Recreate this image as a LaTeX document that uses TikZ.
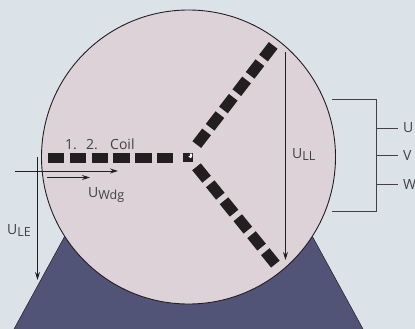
\documentclass[tikz,border=0pt]{standalone}
\usepackage{fontspec}
\setmainfont{Open Sans}
\usetikzlibrary{arrows.meta}
\definecolor{bgblue}{HTML}{DBE3E9}
\definecolor{rotorpink}{HTML}{DDD2D7}
\definecolor{footblue}{HTML}{515377}
\definecolor{inkblack}{HTML}{231F20}
\newcommand{\volt}[1]{\fontsize{14}{14}\selectfont U\fontsize{12.5}{14}\selectfont\raisebox{-2pt}{#1}}

\begin{document}
\begin{tikzpicture}[x=1pt, y=-1pt, every node/.style={font=\fontsize{14}{14}\selectfont, text=inkblack!85!white, inner sep=0pt},
coil/.style={line width=10pt, inkblack, dash pattern=on 16.4pt off 5.4pt},
slantcoil/.style={line width=11pt, inkblack, dash pattern=on 16pt off 5.85pt},
meter/.style={-{Stealth[length=8pt, width=5pt]}, line width=0.9pt, inkblack},
lead/.style={line width=1pt, inkblack!85!white}]
% Background and housing
\useasboundingbox (0,0) rectangle (415,329);
\fill[bgblue] (0,0) rectangle (415,329);
\draw[fill=footblue, draw=inkblack, line width=0.5pt] (14,329) -- (90,190) -- (287,190) -- (363,329);
\draw[fill=rotorpink, draw=inkblack, line width=0.9pt] (188.5,157) circle (147);

% Define coil ends
\path (48,157.7) coordinate (leftA)
(174.5,157.7) coordinate (leftB)
(196.8,144.6) coordinate (upA)
(273.2,45.4) coordinate (upB)
(196.5,166.8) coordinate (downA)
(275.7,264.5) coordinate (downB);

\draw[coil] (leftA) -- (leftB);
\draw[slantcoil] (upA) -- (upB);
\draw[slantcoil] (downA) -- (downB);

% Star point
\node[fill=inkblack, minimum size=9.5pt] (star) at (188,157.7) {};
\fill[white] (star.north east) ++(-3.2,0.8) -- ++(2.4,0) -- ++(0,3) -- ++(-1.4,1.6) -- ++(-2.4,-1.6) -- ++(1.6,-0.6) -- cycle;

% Labels
\path
(65,149) node[anchor=base west] (one) {1.}
(86,149) node[anchor=base west] (two) {2.}
(110,149) node[anchor=base west] (coilname) {Coil}
(88,197) node[anchor=base west] (uwdg) {\volt{Wdg}}
(292,158) node[anchor=base west] (ull) {\volt{LL}}
(7,234) node[anchor=base west] (ule) {\volt{LE}}
(403,128) node[anchor=west] (termU) {U}
(403,155.5) node[anchor=west] (termV) {V}
(403,184.5) node[anchor=west] (termW) {W}
;

% Voltage arrows
\path (15,171) coordinate (lineL) (118,171) coordinate (lineR)
(47,177.5) coordinate (wdgL) (90,177.5) coordinate (wdgR)
(37.5,157) coordinate (leTop) (37.5,280) coordinate (leEnd)
(285.5,52) coordinate (llTop) (285.5,260) coordinate (llEnd);
\draw[meter] (lineL) -- (lineR);
\draw[meter] (wdgL) -- (wdgR);
\draw[meter] (leTop) -- (leEnd);
\draw[meter] (llTop) -- (llEnd);

% Terminal bracket
\path (332,99) coordinate (brTop) (376,99) coordinate (brTopR)
(376,211) coordinate (brLowR) (332,211) coordinate (brLow)
(376,128) coordinate (tapU) (376,155.5) coordinate (tapV) (376,184.5) coordinate (tapW);
\draw[lead] (brTop) -- (brTopR) -- (brLowR) -- (brLow);
\draw[lead] (tapU) -- ([xshift=-5pt]termU.west |- tapU);
\draw[lead] (tapV) -- ([xshift=-5pt]termU.west |- tapV);
\draw[lead] (tapW) -- ([xshift=-5pt]termU.west |- tapW);

\end{tikzpicture}
\end{document}
